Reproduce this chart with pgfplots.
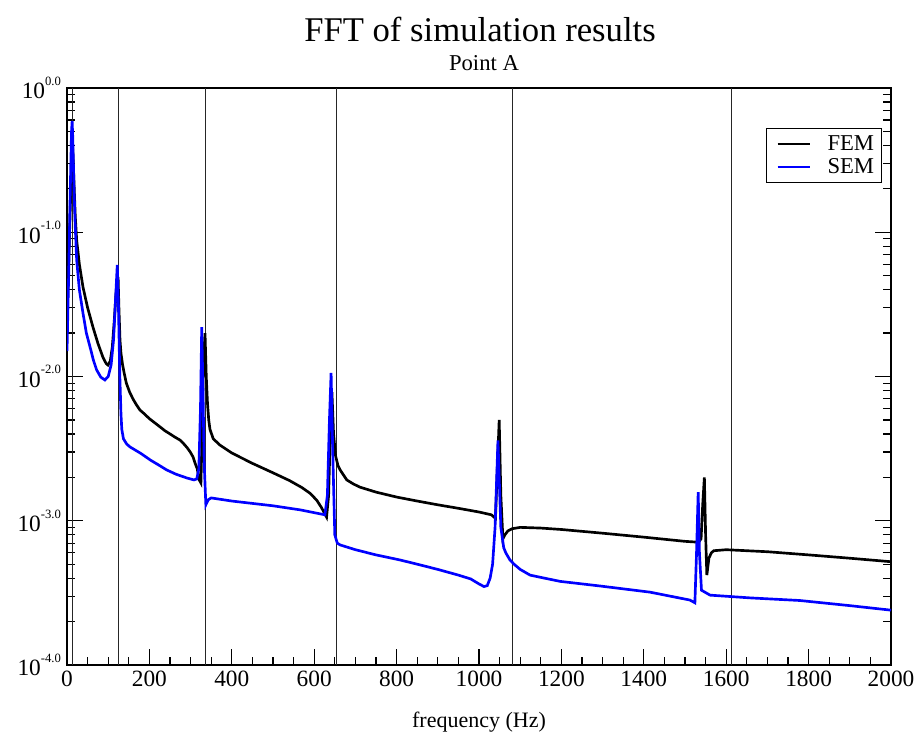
\documentclass[border=0pt]{standalone}
\usepackage{fontspec}
\setmainfont{Liberation Serif}
\usepackage{pgfplots}
\pgfplotsset{compat=1.18}
\newcommand{\tl}[1]{10\raisebox{10pt}{\fontsize{9.5}{10}\selectfont #1}}
\begin{document}
\begin{tikzpicture}
\path[use as bounding box] (0,0) rectangle (687pt,555pt);
\begin{axis}[
  at={(50.25pt,56.25pt)}, anchor=south west,
  scale only axis, width=618pt, height=432.75pt,
  xmin=0, xmax=2000, ymode=log, ymin=1e-4, ymax=1,
  xtick={0,200,...,2000}, minor x tick num=3,
  ytick={1e-4,1e-3,1e-2,1e-1,1},
  yticklabels={\tl{-4.0},\tl{-3.0},\tl{-2.0},\tl{-1.0},\tl{0.0}},
  minor ytick={2e-4,3e-4,4e-4,5e-4,6e-4,7e-4,8e-4,9e-4,2e-3,3e-3,4e-3,5e-3,6e-3,7e-3,8e-3,9e-3,2e-2,3e-2,4e-2,5e-2,6e-2,7e-2,8e-2,9e-2,0.2,0.3,0.4,0.5,0.6,0.7,0.8,0.9},
  xtick pos=left, ytick pos=both, tick align=inside,
  major tick length=12pt, minor tick length=6pt,
  every tick/.style={black, line width=0.9pt},
  axis line style={line width=1.2pt},
  /pgf/number format/1000 sep={},
  /pgf/number format/assume math mode=true,
  tick label style={font=\fontsize{17.5}{20}\selectfont},
  xticklabel style={yshift=-1pt},
  yticklabel style={xshift=-1pt},
  xlabel={frequency (Hz)},
  xlabel style={font=\fontsize{16.5}{19}\selectfont, yshift=-12pt},
  legend style={at={(rel axis cs:0.989,0.931)}, anchor=north east, draw=black, line width=0.75pt,
    font=\fontsize{17}{19}\selectfont, inner xsep=4pt, inner ysep=4pt,
    nodes={inner sep=1.5pt, text depth=0.15em}, row sep=1.5pt, legend cell align=left},
  legend image code/.code={\draw[#1, line width=1.5pt] (0pt,0pt) -- (24pt,0pt); \path (-3pt,0pt) (35pt,0pt);},
  clip=true,
]
\addplot[black!85, line width=0.7pt, forget plot] coordinates {(14,1e-4) (14,1)};
\addplot[black!85, line width=0.7pt, forget plot] coordinates {(124,1e-4) (124,1)};
\addplot[black!85, line width=0.7pt, forget plot] coordinates {(335,1e-4) (335,1)};
\addplot[black!85, line width=0.7pt, forget plot] coordinates {(653,1e-4) (653,1)};
\addplot[black!85, line width=0.7pt, forget plot] coordinates {(1080,1e-4) (1080,1)};
\addplot[black!85, line width=0.7pt, forget plot] coordinates {(1612,1e-4) (1612,1)};
\addplot[black, line width=2pt] coordinates {
(0,0.025) (4,0.06) (8,0.15) (12,0.30) (14,0.38) (17,0.22) (20,0.13) (23.5,0.088) (30,0.060) (38.8,0.0417)
(50,0.030) (63,0.022) (75,0.0170) (87,0.01365) (95,0.0123) (99.5,0.0120) (105,0.0128) (110,0.0160)
(115,0.025) (119,0.038) (124,0.049) (126,0.030) (128.6,0.0179) (131,0.0145) (135,0.0120) (139,0.0105)
(144,0.0090) (152,0.0078) (160,0.0070) (168,0.0064) (177,0.00586) (188,0.0055) (200,0.0051) (212,0.0048)
(226,0.00447) (238,0.0042) (250,0.0040) (262,0.0038) (274,0.00363) (284,0.0034) (292,0.0032) (299,0.0030)
(306,0.00277) (311,0.0025) (316,0.0023) (321,0.00192) (325,0.00183) (328,0.004) (331,0.012) (335,0.020)
(338,0.010) (341,0.0065) (344,0.0050) (347,0.0043) (355,0.0037) (371,0.00335) (400,0.00295) (450,0.00250)
(500,0.00215) (540,0.00190) (570,0.00170) (590,0.00155) (606,0.00139) (618,0.00123) (626,0.00111)
(630,0.00106) (635,0.0015) (639,0.004) (643,0.0078) (647,0.004) (652,0.0028) (658,0.0024) (663,0.00225)
(679,0.00192) (695,0.0018) (711,0.00171) (750,0.00158) (800,0.00146) (850,0.00137) (900,0.00129)
(950,0.00122) (1000,0.00115) (1030,0.0011) (1040,0.00104)
(1045,0.0025) (1049,0.005) (1053,0.0015) (1058,0.00075) (1063,0.00080) (1070,0.00085) (1080,0.00088)
(1100,0.00090) (1150,0.00089) (1200,0.00087) (1300,0.00082) (1400,0.00077) (1500,0.00072) (1533,0.00071)
(1539,0.00075) (1543,0.0013) (1547,0.0020) (1550,0.0008) (1553,0.00042) (1558,0.00055) (1564,0.0006)
(1570,0.00062) (1600,0.00063) (1700,0.00061) (1800,0.00058) (1900,0.00055) (2000,0.00052)
};
\addlegendentry{FEM}
\addplot[blue, line width=2pt] coordinates {
(0,0.015) (4,0.05) (8,0.2) (11,0.50) (12.5,0.59) (14,0.45) (17,0.2) (20,0.11) (23.5,0.0642) (30,0.040)
(38.8,0.0275) (47,0.020) (56,0.016) (64,0.013) (72,0.0111) (82,0.0099) (92,0.00946) (100,0.0100)
(107,0.0120) (113,0.018) (118,0.035) (122,0.0593) (125,0.030) (128,0.0106) (131,0.0055) (133,0.0043)
(137,0.0037) (145,0.0034) (153,0.00325) (180,0.00292) (202,0.00264) (222,0.00244) (242,0.00225)
(265,0.0021) (291,0.00198) (308,0.00192) (315,0.00195)
(320,0.0023) (324,0.006) (327,0.022) (330,0.008) (333,0.0025) (337,0.00129) (343,0.0014) (350,0.00144)
(400,0.00137) (500,0.00127) (566,0.00119) (626,0.0011) (632,0.0015) (637,0.005) (641,0.0106) (645,0.003)
(650,0.0008) (656,0.0007) (663,0.00068) (700,0.00063) (750,0.00058) (808,0.000535) (850,0.0005)
(900,0.00046) (950,0.00042) (980,0.000395) (1000,0.000365) (1012,0.00035) (1020,0.000355) (1027,0.00040)
(1033,0.0005) (1039,0.0009) (1043,0.002) (1046,0.0036) (1049,0.002) (1053,0.0009)
(1060,0.00065) (1065,0.0006) (1075,0.000535) (1085,0.0005) (1100,0.00046) (1124,0.00042) (1150,0.000405)
(1197,0.00038) (1294,0.000353) (1415,0.00032) (1512,0.000282) (1524,0.00027) (1528,0.0006) (1532,0.00158)
(1535,0.0006) (1540,0.00033) (1561,0.000305) (1658,0.000292) (1779,0.000280) (1900,0.000258) (2000,0.00024)
};
\addlegendentry{SEM}
\end{axis}
\node[anchor=base, font=\fontsize{26}{30}\selectfont] at (360pt,524pt) {FFT of simulation results};
\node[anchor=base, font=\fontsize{17}{19}\selectfont] at (363pt,502pt) {Point A};
\end{tikzpicture}
\end{document}
